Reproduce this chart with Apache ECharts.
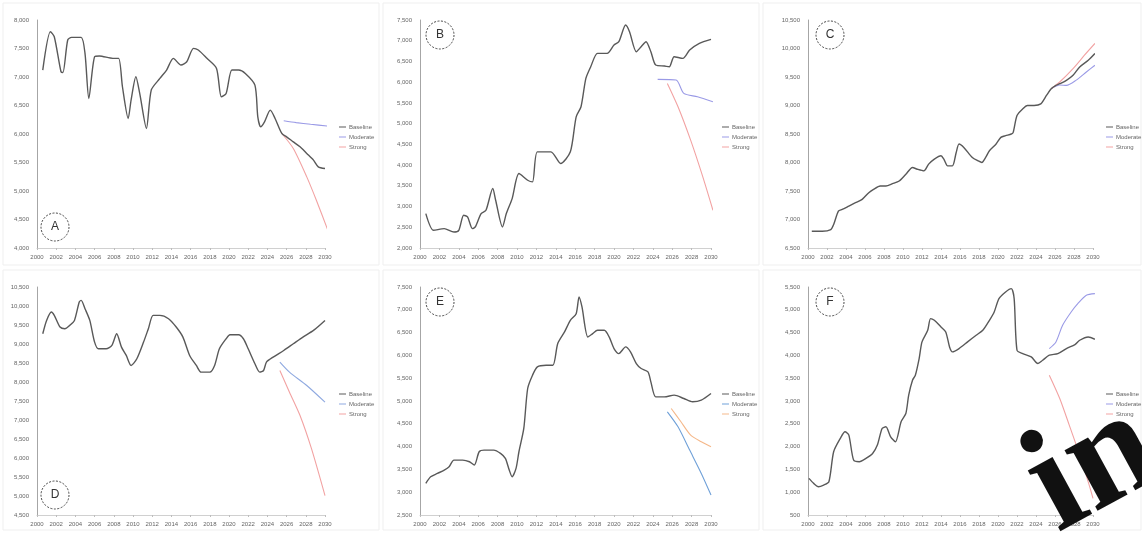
<!DOCTYPE html>
<html><head><meta charset="utf-8">
<script src="https://cdn.jsdelivr.net/npm/echarts@6/dist/echarts.min.js"></script>
<style>html,body{margin:0;padding:0;background:#fff}#c{width:1142px;height:533px}</style>
</head><body><div id="c"></div>
<script>
// ---------- data ----------
const panelLetters = ['A','B','C','D','E','F'];
const legendNames = ['Baseline','Moderate','Strong'];
const yMin = [4000, 2000, 6500, 4500, 2500, 500];
const yMax = [8000, 7500, 10500, 10500, 7500, 5500];
const yStep = 500;
const xStart = 2000, xEnd = 2030, xStep = 2;

const aBase = [[2000.6,7122],[2001.4,7795],[2001.8,7707],[2002.5,7092],[2002.7,7080],[2003.2,7649],[2003.6,7696],[2004.6,7696],[2005.0,7415],[2005.4,6624],[2006.0,7356],[2006.5,7368],[2007.9,7327],[2008.5,7327],[2008.9,6829],[2009.5,6273],[2009.8,6595],[2010.3,7005],[2010.7,6712],[2011.4,6097],[2011.9,6770],[2012.8,6975],[2013.5,7122],[2014.2,7327],[2015.0,7210],[2015.6,7268],[2016.3,7502],[2016.8,7473],[2017.7,7327],[2018.7,7151],[2019.2,6653],[2019.7,6712],[2020.3,7122],[2021.0,7122],[2021.7,7063],[2022.7,6858],[2023.0,6302],[2023.3,6126],[2023.7,6214],[2024.3,6419],[2024.8,6273],[2025.5,6009],[2026.0,5950],[2026.7,5862],[2027.4,5775],[2028.1,5658],[2028.8,5541],[2029.3,5424],[2030.0,5394]];
const aMod = [[2025.7,6232],[2027.0,6200],[2028.5,6170],[2030.3,6138]];
const aStrong = [[2025.5,6009],[2026.7,5746],[2028.1,5248],[2029.1,4838],[2030.3,4310]];

const bBase = [[2000.6,2830],[2001.4,2427],[2002.5,2468],[2003.5,2387],[2004.0,2427],[2004.5,2790],[2004.9,2750],[2005.4,2468],[2005.7,2508],[2006.3,2830],[2006.8,2910],[2007.5,3434],[2007.8,3152],[2008.5,2508],[2008.9,2830],[2009.5,3192],[2010.2,3796],[2011.1,3635],[2011.6,3595],[2012.1,4320],[2013.5,4320],[2014.5,4038],[2015.5,4320],[2016.1,5165],[2016.6,5407],[2017.1,6091],[2017.6,6373],[2018.3,6695],[2019.3,6695],[2020.0,6896],[2020.5,6977],[2021.2,7379],[2021.6,7218],[2022.3,6735],[2022.8,6856],[2023.3,6977],[2023.8,6735],[2024.3,6413],[2025.2,6389],[2025.7,6373],[2026.2,6614],[2027.1,6574],[2027.8,6775],[2028.8,6936],[2030.0,7033]];
const bMod = [[2024.5,6067],[2026.4,6051],[2027.2,5729],[2028.6,5648],[2030.2,5527]];
const bStrong = [[2025.5,5970],[2026.6,5407],[2027.9,4601],[2029.1,3756],[2030.2,2910]];

const cBase = [[2000.4,6794],[2001.5,6794],[2002.4,6824],[2002.7,6912],[2003.2,7147],[2003.6,7176],[2004.3,7235],[2005.0,7294],[2005.7,7353],[2006.4,7471],[2006.9,7529],[2007.6,7588],[2008.2,7588],[2008.9,7629],[2009.6,7676],[2010.3,7794],[2011.0,7912],[2011.5,7882],[2012.2,7853],[2012.7,7971],[2013.3,8059],[2014.0,8118],[2014.3,8059],[2014.7,7941],[2015.2,7941],[2015.6,8176],[2015.9,8324],[2016.4,8265],[2017.3,8088],[2017.9,8029],[2018.3,8000],[2018.7,8088],[2019.1,8206],[2019.8,8324],[2020.3,8441],[2020.8,8471],[2021.4,8500],[2021.6,8529],[2022.0,8824],[2022.6,8941],[2023.1,9000],[2023.8,9000],[2024.5,9029],[2025.1,9176],[2025.6,9294],[2026.1,9353],[2026.5,9382],[2027.2,9441],[2027.9,9529],[2028.6,9676],[2029.5,9794],[2030.2,9912]];
const cMod = [[2025.6,9294],[2026.5,9360],[2027.2,9353],[2028.2,9441],[2029.3,9588],[2030.2,9706]];
const cStrong = [[2025.6,9294],[2026.5,9412],[2027.9,9647],[2029.1,9882],[2030.2,10088]];

const dBase = [[2000.6,9270],[2001.0,9621],[2001.5,9841],[2001.8,9753],[2002.4,9446],[2002.9,9402],[2003.4,9490],[2003.9,9621],[2004.4,10105],[2004.6,10149],[2005.0,9929],[2005.5,9621],[2006.0,9050],[2006.4,8874],[2007.2,8874],[2007.8,8962],[2008.3,9270],[2008.8,8918],[2009.3,8699],[2009.8,8435],[2010.4,8611],[2011.1,9050],[2011.6,9402],[2012.1,9753],[2012.8,9753],[2013.7,9665],[2014.5,9446],[2015.2,9182],[2015.9,8699],[2016.6,8435],[2017.1,8259],[2018.0,8259],[2018.5,8435],[2019.0,8874],[2019.7,9138],[2020.1,9244],[2021.0,9244],[2021.5,9138],[2022.0,8874],[2022.7,8479],[2023.2,8259],[2023.6,8303],[2023.9,8523],[2024.6,8655],[2025.7,8830],[2026.7,9006],[2027.7,9182],[2028.8,9358],[2030.0,9621]];
const dMod = [[2025.3,8523],[2026.3,8259],[2028.1,7908],[2030.0,7469]];
const dStrong = [[2025.3,8303],[2026.3,7732],[2027.4,7117],[2028.6,6238],[2030.0,5008]];

const eBase = [[2000.6,3193],[2001.1,3339],[2001.8,3412],[2002.5,3485],[2003.0,3558],[2003.5,3704],[2004.4,3704],[2005.1,3668],[2005.6,3595],[2006.1,3887],[2006.6,3923],[2007.6,3923],[2008.3,3850],[2008.8,3741],[2009.2,3485],[2009.5,3339],[2009.9,3522],[2010.2,3887],[2010.7,4398],[2011.1,5274],[2011.6,5566],[2012.1,5748],[2013.0,5785],[2013.7,5785],[2014.2,6259],[2014.9,6515],[2015.5,6770],[2016.1,6916],[2016.4,7281],[2016.7,7062],[2017.3,6405],[2017.8,6478],[2018.3,6551],[2019.0,6551],[2019.5,6405],[2020.0,6150],[2020.5,6040],[2021.2,6186],[2021.7,6077],[2022.3,5821],[2022.8,5712],[2023.5,5639],[2023.8,5420],[2024.3,5091],[2025.2,5091],[2026.2,5128],[2027.2,5055],[2028.1,4982],[2029.0,5018],[2030.0,5164]];
const eMod = [[2025.5,4763],[2026.6,4434],[2027.8,3923],[2029.0,3412],[2030.0,2938]];
const eStrong = [[2025.9,4836],[2026.9,4544],[2027.9,4252],[2029.0,4106],[2030.0,3996]];

const fBase = [[2000.1,1303],[2000.6,1193],[2001.1,1120],[2001.65,1157],[2002.2,1230],[2002.7,1887],[2003.4,2179],[2003.9,2325],[2004.3,2252],[2004.8,1704],[2005.4,1668],[2006.1,1741],[2006.8,1850],[2007.3,2033],[2007.8,2398],[2008.2,2434],[2008.7,2215],[2009.2,2106],[2009.8,2544],[2010.3,2726],[2010.6,3128],[2011.0,3456],[2011.3,3566],[2011.7,3931],[2012.0,4296],[2012.6,4551],[2012.9,4807],[2013.3,4770],[2014.0,4624],[2014.5,4515],[2014.9,4186],[2015.2,4077],[2015.9,4150],[2016.8,4296],[2017.7,4442],[2018.4,4551],[2019.1,4770],[2019.6,4953],[2020.1,5245],[2020.8,5391],[2021.4,5464],[2021.7,5245],[2022.0,4113],[2022.6,4040],[2023.5,3967],[2024.2,3821],[2024.7,3894],[2025.4,4004],[2026.3,4040],[2027.2,4150],[2028.1,4237],[2028.6,4332],[2029.5,4405],[2030.2,4354]];
const fMod = [[2025.4,4150],[2026.1,4296],[2026.8,4661],[2027.7,4953],[2028.4,5135],[2029.3,5318],[2030.2,5354]];
const fStrong = [[2025.4,3566],[2026.5,3055],[2027.5,2471],[2028.6,1814],[2029.6,1157],[2030.0,865]];

const panelSeries = [
  [aBase, aMod, aStrong],
  [bBase, bMod, bStrong],
  [cBase, cMod, cStrong],
  [dBase, dMod, dStrong],
  [eBase, eMod, eStrong],
  [fBase, fMod, fStrong]
];

// ---------- layout / style ----------
const grids = [
  {left: 37,  top: 20,  width: 288, height: 228},
  {left: 420, top: 20,  width: 291, height: 228},
  {left: 808, top: 20,  width: 285, height: 228},
  {left: 37,  top: 287, width: 288, height: 228},
  {left: 420, top: 287, width: 291, height: 228},
  {left: 808, top: 287, width: 285, height: 228}
];
const legendPos = [
  {left: 334, top: 119}, {left: 717, top: 119}, {left: 1101, top: 119},
  {left: 334, top: 386}, {left: 717, top: 386}, {left: 1101, top: 386}
];
const circlePos = [[55,227],[440,35],[830,35],[55,495],[440,302],[830,302]];
const panelColors = [
  ['#595959','#9a9ae6','#f2a2a2'],
  ['#595959','#9a9ae6','#f2a2a2'],
  ['#595959','#9a9ae6','#f2a2a2'],
  ['#595959','#8fa9e0','#f2a2a2'],
  ['#595959','#6fa0d8','#f5b88a'],
  ['#595959','#9a9ae6','#f2a2a2']
];

const fmt = v => v.toLocaleString('en-US');
const option = {
  animation: false,
  backgroundColor: '#fff',
  textStyle: {fontFamily: 'Liberation Sans, Arial, sans-serif'},
  grid: grids.map(g => Object.assign({containLabel: false}, g)),
  xAxis: grids.map((g, i) => ({
    type: 'value', gridIndex: i, min: xStart, max: xEnd, interval: xStep,
    axisLine: {show: true, lineStyle: {color: '#d0d0d0', width: 1}},
    axisTick: {show: true, length: 2, lineStyle: {color: '#bdbdbd'}},
    splitLine: {show: false},
    axisLabel: {fontSize: 6, color: '#666', margin: 6, formatter: v => String(v)}
  })),
  yAxis: grids.map((g, i) => ({
    type: 'value', gridIndex: i, min: yMin[i], max: yMax[i], interval: yStep,
    axisLine: {show: true, lineStyle: {color: '#a6a6a6', width: 1}},
    axisTick: {show: false},
    splitLine: {show: false},
    axisLabel: {fontSize: 6, color: '#666', margin: 8, formatter: fmt}
  })),
  legend: grids.map((g, i) => Object.assign({
    orient: 'vertical', itemWidth: 7, itemHeight: 1, itemGap: 4,
    icon: 'rect',
    textStyle: {fontSize: 6, color: '#666', padding: [0,0,0,-2]},
    data: legendNames.map(n => panelLetters[i] + '|' + n),
    formatter: n => n.split('|')[1],
    selectedMode: false
  }, legendPos[i])),
  series: []
};
panelSeries.forEach((arr, i) => {
  arr.forEach((d, k) => {
    option.series.push({
      type: 'line', name: panelLetters[i] + '|' + legendNames[k],
      xAxisIndex: i, yAxisIndex: i, data: d,
      showSymbol: false, smooth: 0.25,
      lineStyle: {color: panelColors[i][k], width: k === 0 ? 1.4 : 1.1},
      itemStyle: {color: panelColors[i][k]},
      z: k === 0 ? 3 : 2
    });
  });
});

const graphics = [];
// faint panel frames
[[3,3,376,262],[383,3,376,262],[763,3,378,262],[3,270,376,260],[383,270,376,260],[763,270,378,260]].forEach(r => {
  graphics.push({type: 'rect', shape: {x: r[0], y: r[1], width: r[2], height: r[3]},
    style: {fill: 'none', stroke: '#efefef', lineWidth: 1}, z: 0});
});
circlePos.forEach((p, i) => {
  graphics.push({type: 'circle', shape: {cx: p[0], cy: p[1], r: 14},
    style: {fill: '#fff', stroke: '#444', lineWidth: 1, lineDash: [2, 1.5]}, z: 10});
  graphics.push({type: 'text', x: p[0], y: p[1],
    style: {text: panelLetters[i], fontSize: 12, fill: '#333', align: 'center', verticalAlign: 'middle',
      fontFamily: 'Liberation Sans, Arial'}, z: 11});
});
// watermark fragment
graphics.push({type: 'text', x: 1003, y: 433, rotation: 0.5,
  style: {text: 'in', fontSize: 150, fontWeight: 'bold', fill: '#111', fontFamily: 'Liberation Serif, DejaVu Serif, serif',
    align: 'left', verticalAlign: 'top'}, z: 20});
option.graphic = graphics;

const chart = echarts.init(document.getElementById('c'), null, {renderer: 'canvas'});
chart.setOption(option);
</script>
</body></html>
